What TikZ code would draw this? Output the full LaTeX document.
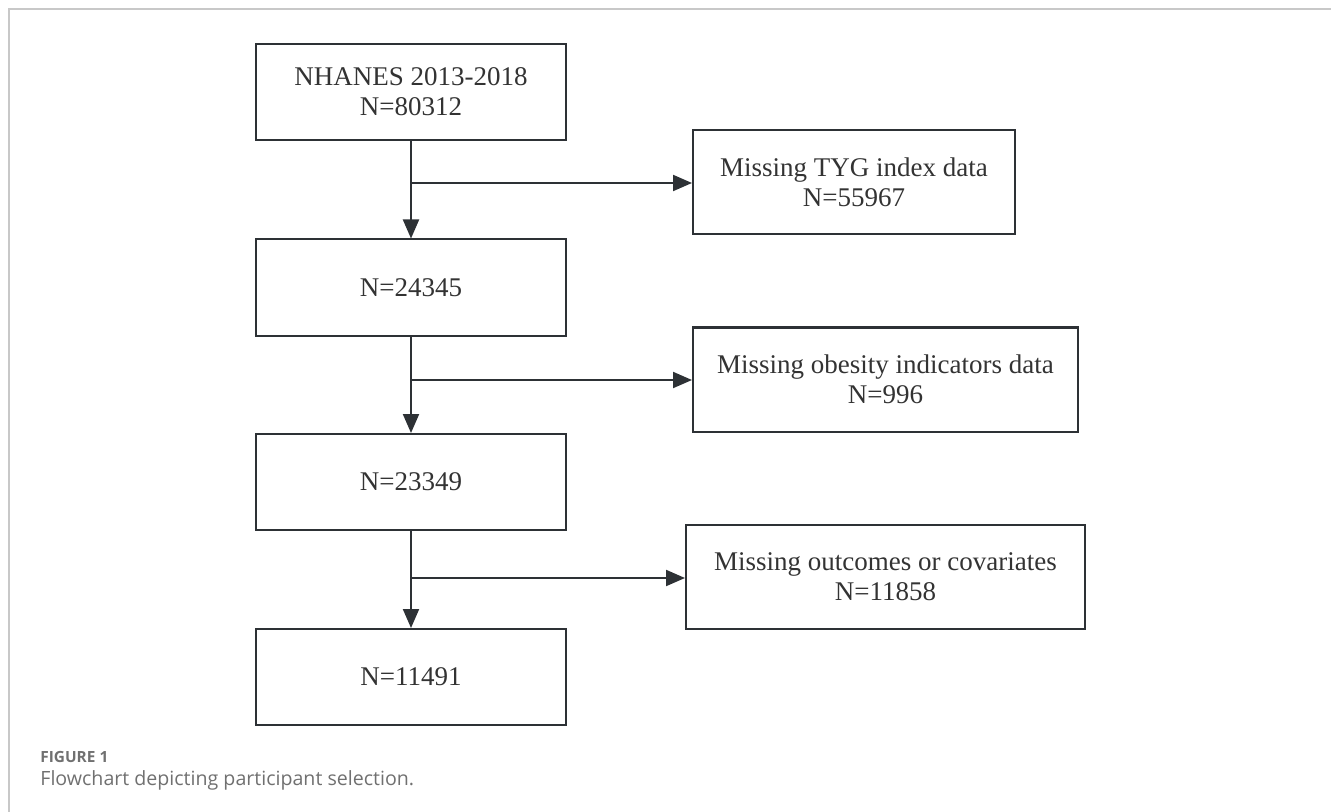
\documentclass[tikz,border=0pt]{standalone}
\usepackage{fontspec}
\setmainfont{Liberation Serif}
\newfontfamily\capfont{Open Sans}
\usetikzlibrary{arrows.meta}
\definecolor{boxline}{HTML}{2D3135}
\definecolor{frameline}{HTML}{C8C8C8}
\definecolor{captext}{HTML}{707070}
\begin{document}
\begin{tikzpicture}[x=0.5pt, y=-0.5pt,
	stage/.style={draw=boxline, line width=1pt, rectangle, minimum width=155pt, minimum height=48pt, align=center, inner sep=0pt, font=\fontsize{13.5}{15}\selectfont, text=black!80},
	drop/.style={stage, minimum height=52pt},
	flow/.style={draw=boxline, line width=1pt, -{Triangle[length=9.5pt, width=8pt]}} ]
	\useasboundingbox (0,0) rectangle (1331,812);
	\draw[frameline, line width=0.75pt] (9,812) -- (9,9) -- (1331,9);

	% main column
	\node[stage] (all) at (411,92) {NHANES 2013-2018\\N=80312};
	\node[stage] (tyg) at (411,287.5) {N=24345};
	\node[stage] (obs) at (411,482) {N=23349};
	\node[stage] (fin) at (411,677) {N=11491};

	% exclusions
	\node[drop, minimum width=161pt] (ex1) at (854,182) {Missing TYG index data\\N=55967};
	\node[drop, minimum width=192.5pt] (ex2) at (885.5,379.5) {Missing obesity indicators data\\N=996};
	\node[drop, minimum width=199.5pt] (ex3) at (885.5,577) {Missing outcomes or covariates\\N=11858};

	\coordinate (j1) at (411,183);
	\coordinate (j2) at (411,380);
	\coordinate (j3) at (411,578);

	\draw[flow] (all) -- (tyg);
	\draw[flow] (tyg) -- (obs);
	\draw[flow] (obs) -- (fin);
	\draw[flow] (j1) -- (ex1.west |- j1);
	\draw[flow] (j2) -- (ex2.west |- j2);
	\draw[flow] (j3) -- (ex3.west |- j3);

	\node[anchor=base west, inner sep=0pt, text=captext, font=\capfont\bfseries\fontsize{7.7}{9}\selectfont] (fig) at (40,762) {FIGURE 1};
	\node[anchor=base west, inner sep=0pt, text=captext, font=\capfont\fontsize{9.8}{12}\selectfont] (cap) at (40,785) {Flowchart depicting participant selection.};
\end{tikzpicture}
\end{document}
